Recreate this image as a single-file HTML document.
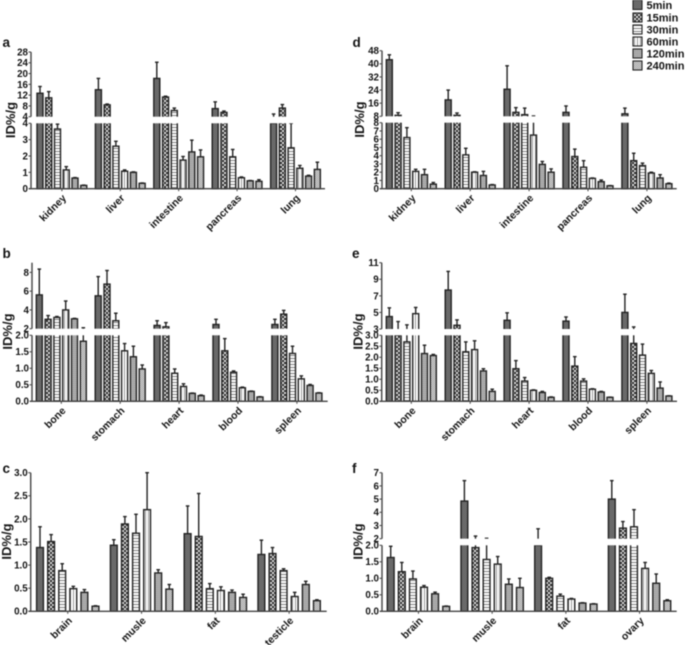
<!DOCTYPE html>
<html lang="en">
<head>
<meta charset="utf-8">
<title>Biodistribution bar charts</title>
<style>
html,body{margin:0;padding:0;background:#fff;}
body{width:685px;height:645px;overflow:hidden;}
svg{display:block;filter:blur(0.45px);}
text{font-family:"Liberation Sans",Arial,sans-serif;font-weight:bold;fill:#141414;}
</style>
</head>
<body>
<svg id="chart" xmlns="http://www.w3.org/2000/svg" width="685" height="645" viewBox="0 0 685 645">
<defs>
<pattern id="fill-s0" width="2" height="2" patternUnits="userSpaceOnUse"><rect width="2" height="2" fill="#5f5f5f"/><rect width="1" height="1" fill="#747474"/><rect x="1" y="1" width="1" height="1" fill="#747474"/></pattern>
<pattern id="fill-s1" width="4" height="4" patternUnits="userSpaceOnUse"><rect width="4" height="4" fill="#2c2c2c"/><rect width="2" height="2" fill="#d8d8d8"/><rect x="2" y="2" width="2" height="2" fill="#d8d8d8"/></pattern>
<pattern id="fill-s2" width="3" height="3" patternUnits="userSpaceOnUse"><rect width="3" height="3" fill="#fff"/><rect y="1" width="3" height="1" fill="#808080"/></pattern>
<pattern id="fill-s3" width="3" height="3" patternUnits="userSpaceOnUse"><rect width="3" height="3" fill="#fff"/><rect x="1" width="1" height="3" fill="#999"/></pattern>
<pattern id="fill-s4" width="2" height="2" patternUnits="userSpaceOnUse"><rect width="2" height="2" fill="#a4a4a4"/><rect width="1" height="1" fill="#b4b4b4"/></pattern>
<pattern id="fill-s5" width="2" height="2" patternUnits="userSpaceOnUse"><rect width="2" height="2" fill="#a0a0a0"/><rect width="1" height="1" fill="#d4d4d4"/><rect x="1" y="1" width="1" height="1" fill="#d4d4d4"/></pattern>
</defs>
<g id="plots"></g>
<g>
<g><rect x="633" y="0" width="9" height="9.5" fill="url(#fill-s0)" stroke="#222" stroke-width="1.1"/><text x="646.5" y="9" font-size="11">5min</text></g>
<g><rect x="633" y="13" width="9" height="9" fill="url(#fill-s1)" stroke="#222" stroke-width="1.1"/><text x="646.5" y="21.5" font-size="11">15min</text></g>
<g><rect x="633" y="25" width="9" height="9" fill="url(#fill-s2)" stroke="#222" stroke-width="1.1"/><text x="646.5" y="33.5" font-size="11">30min</text></g>
<g><rect x="633" y="37" width="9" height="9" fill="url(#fill-s3)" stroke="#222" stroke-width="1.1"/><text x="646.5" y="45.5" font-size="11">60min</text></g>
<g><rect x="633" y="49" width="9" height="9" fill="url(#fill-s4)" stroke="#222" stroke-width="1.1"/><text x="646.5" y="57.5" font-size="11">120min</text></g>
<g><rect x="633" y="61" width="9" height="9" fill="url(#fill-s5)" stroke="#222" stroke-width="1.1"/><text x="646.5" y="69.5" font-size="11">240min</text></g>
</g>
</svg>
<script>
var seriesNames = ["5min","15min","30min","60min","120min","240min"];

var categoriesA = ["kidney","liver","intestine","pancreas","lung"];
var valuesA = [[12.7,11,3.65,1.15,0.65,0.2],[14,8.4,2.6,1.07,1,0.33],[18.2,11.3,6.3,1.75,2.25,1.95],[7,5.6,1.95,0.67,0.48,0.45],[4,7.2,2.5,1.25,0.77,1.18]];
var errorTopsA = [[15.2,13.3,3.95,1.35,0.68,0.22],[18.2,8.7,2.9,1.15,1.03,0.35],[24.2,11.6,7.2,1.97,2.97,2.37],[9.5,6.1,2.4,0.72,0.5,0.55],[5,8.5,4,1.42,0.82,1.62]];
var lowerTicksA = ["0","1","2","3","4"];
var upperTicksA = ["4","8","12","16","20","24","28"];

var categoriesD = ["kidney","liver","intestine","pancreas","lung"];
var valuesD = [[42.5,8.6,6.2,2.1,1.7,0.55],[18,8.6,4.1,2,1.6,0.45],[24.5,10.4,9,6.5,2.95,2],[10.4,3.9,2.6,1.25,0.85,0.35],[9.5,3.4,2.8,1.9,1.3,0.6]];
var errorTopsD = [[45.5,10.2,7.4,2.35,2.35,0.75],[24,10,4.9,2.05,2.1,0.5],[38.8,13.3,13,8.2,3.3,2.4],[14.3,4.8,3.4,1.3,1.05,0.38],[13,4.3,3.1,2,1.7,0.68]];
var lowerTicksD = ["0","1","2","3","4","5","6","7","8"];
var upperTicksD = ["8","16","24","32","40","48"];

var categoriesB = ["bone","stomach","heart","blood","spleen"];
var valuesB = [[5.6,3,3.2,4,3.05,1.82],[5.5,6.75,2.85,1.53,1.35,0.98],[2.35,2.2,0.85,0.45,0.24,0.17],[2.45,1.53,0.88,0.41,0.3,0.13],[2.45,3.55,1.45,0.68,0.48,0.25]];
var errorTopsB = [[8.35,3.4,3.3,4.95,3.1,2.1],[7.55,8.2,3.65,1.75,1.67,1.1],[2.85,2.65,0.98,0.53,0.25,0.19],[3,1.9,0.92,0.43,0.31,0.14],[3,3.95,1.67,0.77,0.51,0.26]];
var lowerTicksB = ["0.0","0.5","1.0","1.5","2.0"];
var upperTicksB = ["2","4","6","8"];

var categoriesE = ["bone","stomach","heart","blood","spleen"];
var valuesE = [[4.5,3,2.7,4.85,2.17,2.08],[7.7,3.45,2.25,2.35,1.38,0.45],[4.05,1.48,0.92,0.5,0.4,0.18],[3.95,1.6,0.92,0.55,0.42,0.18],[5,2.63,2.1,1.27,0.6,0.24]];
var errorTopsE = [[5.55,3.9,3.5,5.6,2.55,2.13],[9.95,4.1,2.7,2.75,1.48,0.55],[4.95,1.85,1.08,0.52,0.45,0.2],[4.45,2.03,1.02,0.57,0.45,0.19],[7.2,3.25,2.6,1.4,0.88,0.25]];
var lowerTicksE = ["0.0","0.5","1.0","1.5","2.0","2.5","3.0"];
var upperTicksE = ["3","5","7","9","11"];

var categoriesC = ["brain","musle","fat","testicle"];
var valuesC = [[1.38,1.51,0.88,0.49,0.41,0.11],[1.43,1.89,1.69,2.2,0.83,0.48],[1.68,1.62,0.49,0.45,0.41,0.3],[1.23,1.25,0.88,0.32,0.58,0.23]];
var errorTopsC = [[1.83,1.66,1.03,0.54,0.47,0.12],[1.55,2.05,2.1,3,0.9,0.58],[2.28,2.55,0.6,0.53,0.46,0.37],[1.54,1.38,0.92,0.41,0.65,0.25]];
var lowerTicksC = ["0.0","0.5","1.0","1.5","2.0","2.5","3.0"];

var categoriesF = ["brain","musle","fat","ovary"];
var valuesF = [[1.63,1.2,0.98,0.73,0.53,0.15],[4.85,1.93,1.57,1.43,0.82,0.72],[2,1,0.46,0.37,0.25,0.22],[5,2.8,2.9,1.3,0.85,0.32]];
var errorTopsF = [[1.97,1.48,1.22,0.78,0.58,0.16],[6.4,2.2,2.03,1.66,0.98,1],[2.75,1.03,0.52,0.39,0.26,0.23],[6.4,3.3,4.2,1.48,1.13,0.35]];
var lowerTicksF = ["0.0","0.5","1.0","1.5","2.0"];
var upperTicksF = ["2","3","4","5","6","7"];

var NS = "http://www.w3.org/2000/svg";
var root = document.getElementById("plots");

function node(parent, tag, attrs) {
  var el = document.createElementNS(NS, tag);
  for (var k in attrs) { el.setAttribute(k, attrs[k]); }
  parent.appendChild(el);
  return el;
}

function makeYScale(L) {
  var lowerMax = L.lowerMax;
  var lowerPx = (L.base - L.lowerTop) / lowerMax;
  if (L.upperMax === undefined) {
    return function (v) { return L.base - v * lowerPx; };
  }
  var upperPx = (L.upperBottom - L.top) / (L.upperMax - lowerMax);
  return function (v) {
    if (v <= lowerMax) { return L.base - v * lowerPx; }
    return L.upperBottom - (v - lowerMax) * upperPx;
  };
}

function drawPanel(name, letter, L, categories, values, errorTops, lowerTicks, upperTicks) {
  var g = node(root, "g", {});
  
  

  var y = makeYScale(L);
  var xBar = function (groupIndex, seriesIndex) {
    return L.first + groupIndex * L.groupPitch + seriesIndex * L.barPitch;
  };

  categories.forEach(function (cat, gi) {
    values[gi].forEach(function (v, si) {
      var cx = xBar(gi, si);
      var top = y(v);
      var errTop = y(errorTops[gi][si]);
      var whisker = node(g, "line", { x1: cx, x2: cx, y1: top, y2: errTop, stroke: "#222", "stroke-width": 1.4 });
      
      
      node(g, "line", { x1: cx - 1.8, x2: cx + 1.8, y1: errTop, y2: errTop, stroke: "#222", "stroke-width": 1.4 });
      var bar = node(g, "rect", { x: cx - L.barWidth / 2, y: top, width: L.barWidth, height: L.base - top, fill: "url(#fill-s" + si + ")", stroke: "#222", "stroke-width": 1.4 });
      
      
    });
  });

  if (L.upperMax !== undefined) {
    var gap = node(g, "rect", { x: L.axisX - 1, y: L.upperBottom, width: L.axisEnd - L.axisX + 2, height: L.lowerTop - L.upperBottom, fill: "#fff" });
    
    
  }

  var axisColor = "#444";
  var yAxis = node(g, "line", { x1: L.axisX, x2: L.axisX, y1: L.base, y2: L.lowerTop, stroke: axisColor, "stroke-width": 1.4 });
  
  
  if (L.upperMax !== undefined) {
    var yAxisUpper = node(g, "line", { x1: L.axisX, x2: L.axisX, y1: L.upperBottom, y2: L.top, stroke: axisColor, "stroke-width": 1.4 });
    
    
  }
  var xAxis = node(g, "line", { x1: L.axisX - 2, x2: L.axisEnd, y1: L.base, y2: L.base, stroke: axisColor, "stroke-width": 1.4 });
  
  

  var drawTick = function (label, py) {
    node(g, "line", { x1: L.axisX - 2.5, x2: L.axisX, y1: py, y2: py, stroke: axisColor, "stroke-width": 1 });
    var t = node(g, "text", { x: L.axisX - 3, y: py + 3.4, "text-anchor": "end", "font-size": 9.8 });
    t.textContent = label;
    
    
  };
  lowerTicks.forEach(function (label) { drawTick(label, y(Number(label))); });
  if (L.upperMax !== undefined) {
    upperTicks.forEach(function (label) {
      var offset = Number(label) - L.lowerMax;
      var py = offset === 0 ? L.upperBottom : y(Number(label));
      drawTick(label, py);
    });
  }

  categories.forEach(function (cat, gi) {
    var tx = (xBar(gi, 0) + xBar(gi, 5)) / 2;
    node(g, "line", { x1: tx, x2: tx, y1: L.base, y2: L.base + 2.5, stroke: axisColor, "stroke-width": 1 });
    var lx = tx + 5;
    var ly = L.base + 10;
    var t = node(g, "text", { x: lx, y: ly, "text-anchor": "end", "font-size": 10.4, transform: "rotate(-45 " + lx + " " + ly + ")" });
    t.textContent = cat;
    
    
  });

  var title = node(g, "text", { x: L.titleX, y: L.titleY, "text-anchor": "middle", "font-size": 13, transform: "rotate(-90 " + L.titleX + " " + L.titleY + ")" });
  title.textContent = "ID%/g";
  
  

  var tag = node(g, "text", { x: L.letterX, y: L.letterY, "font-size": 13.5 });
  tag.textContent = letter;
  
  
}

drawPanel("kidney-to-lung-a", "a",
  { axisX: 31, axisEnd: 325, base: 188.7, lowerTop: 123.3, upperBottom: 116.7, top: 52, lowerMax: 4, upperMax: 28, first: 40, groupPitch: 58.4, barPitch: 8.75, barWidth: 6, titleX: 15, titleY: 120, letterX: 2.5, letterY: 47 },
  categoriesA, valuesA, errorTopsA, lowerTicksA, upperTicksA);

drawPanel("kidney-to-lung-d", "d",
  { axisX: 382, axisEnd: 676.7, base: 188.7, lowerTop: 122.7, upperBottom: 116.3, top: 50.7, lowerMax: 8, upperMax: 48, first: 389.3, groupPitch: 58.9, barPitch: 8.8, barWidth: 6, titleX: 364, titleY: 119.5, letterX: 352.5, letterY: 47 },
  categoriesD, valuesD, errorTopsD, lowerTicksD, upperTicksD);

drawPanel("bone-to-spleen-b", "b",
  { axisX: 32, axisEnd: 327.7, base: 401.3, lowerTop: 335.3, upperBottom: 328.7, top: 262.7, lowerMax: 2, upperMax: 9.03, first: 39.3, groupPitch: 58.9, barPitch: 8.8, barWidth: 6, titleX: 12, titleY: 331.5, letterX: 2.5, letterY: 258 },
  categoriesB, valuesB, errorTopsB, lowerTicksB, upperTicksB);

drawPanel("bone-to-spleen-e", "e",
  { axisX: 381.7, axisEnd: 677, base: 401.3, lowerTop: 335.3, upperBottom: 329, top: 262.7, lowerMax: 3, upperMax: 11, first: 389.3, groupPitch: 58.9, barPitch: 8.8, barWidth: 6, titleX: 362.7, titleY: 331.5, letterX: 352, letterY: 258 },
  categoriesE, valuesE, errorTopsE, lowerTicksE, upperTicksE);

drawPanel("brain-to-testicle-c", "c",
  { axisX: 30.7, axisEnd: 326.7, base: 611.3, lowerTop: 472.7, lowerMax: 3, first: 40, groupPitch: 73.8, barPitch: 11.1, barWidth: 6.8, titleX: 11, titleY: 541.5, letterX: 2.5, letterY: 473 },
  categoriesC, valuesC, errorTopsC, lowerTicksC, []);

drawPanel("brain-to-ovary-f", "f",
  { axisX: 382, axisEnd: 676.7, base: 611.3, lowerTop: 545.3, upperBottom: 538.7, top: 472.7, lowerMax: 2, upperMax: 7, first: 390.7, groupPitch: 73.7, barPitch: 11.1, barWidth: 6.8, titleX: 362.3, titleY: 541.5, letterX: 352, letterY: 473 },
  categoriesF, valuesF, errorTopsF, lowerTicksF, upperTicksF);
</script>
</body>
</html>
